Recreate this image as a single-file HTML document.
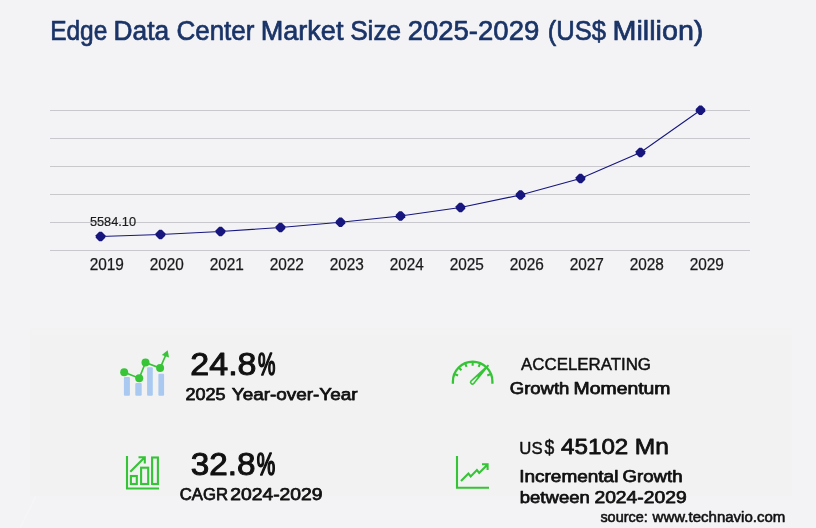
<!DOCTYPE html>
<html lang="en">
<head>
<meta charset="utf-8">
<title>Edge Data Center Market Size 2025-2029 (US$ Million)</title>
<style>
html,body{margin:0;padding:0;background:#f3f3f6;}
body{width:816px;height:528px;overflow:hidden;font-family:"Liberation Sans",sans-serif;}
svg{display:block;}
text{font-family:"Liberation Sans",sans-serif;}
.g{fill:none;stroke:#35c435;stroke-width:2.1;}
</style>
</head>
<body>
<svg width="816" height="528" viewBox="0 0 816 528">
<rect x="0" y="0" width="816" height="528" fill="#f3f3f6"/>
<!-- lower panel -->
<rect x="30" y="328" width="762" height="168" fill="#f2f2f2"/>
<rect x="32" y="330" width="760" height="5" fill="#f3f3f3"/>
<line x1="36" y1="496" x2="20" y2="528" stroke="#f5f5f8" stroke-width="1.6"/>

<!-- grid -->
<g stroke="#c9c9cd" stroke-width="1" shape-rendering="crispEdges">
<line x1="50" y1="110.5" x2="750" y2="110.5"/>
<line x1="50" y1="138.5" x2="750" y2="138.5"/>
<line x1="50" y1="166.5" x2="750" y2="166.5"/>
<line x1="50" y1="194.5" x2="750" y2="194.5"/>
<line x1="50" y1="222.5" x2="750" y2="222.5"/>
<line x1="50" y1="250.5" x2="750" y2="250.5"/>
</g>
<!-- series -->
<polyline fill="none" stroke="#16167e" stroke-width="1.1" points="100.4,236.5 160.4,234.5 220.4,231.5 280.4,227.5 340.4,222.3 400.4,216 460.4,207.5 520.4,195 580.4,178.5 640.4,152.5 700.4,110.3"/>
<g fill="#16167e">
<polygon points="99.20,231.75 101.80,231.75 105.25,235.20 105.25,237.80 101.80,241.25 99.20,241.25 95.75,237.80 95.75,235.20"/>
<polygon points="159.20,229.75 161.80,229.75 165.25,233.20 165.25,235.80 161.80,239.25 159.20,239.25 155.75,235.80 155.75,233.20"/>
<polygon points="219.20,226.75 221.80,226.75 225.25,230.20 225.25,232.80 221.80,236.25 219.20,236.25 215.75,232.80 215.75,230.20"/>
<polygon points="279.20,222.75 281.80,222.75 285.25,226.20 285.25,228.80 281.80,232.25 279.20,232.25 275.75,228.80 275.75,226.20"/>
<polygon points="339.20,217.55 341.80,217.55 345.25,221.00 345.25,223.60 341.80,227.05 339.20,227.05 335.75,223.60 335.75,221.00"/>
<polygon points="399.20,211.25 401.80,211.25 405.25,214.70 405.25,217.30 401.80,220.75 399.20,220.75 395.75,217.30 395.75,214.70"/>
<polygon points="459.20,202.75 461.80,202.75 465.25,206.20 465.25,208.80 461.80,212.25 459.20,212.25 455.75,208.80 455.75,206.20"/>
<polygon points="519.20,190.25 521.80,190.25 525.25,193.70 525.25,196.30 521.80,199.75 519.20,199.75 515.75,196.30 515.75,193.70"/>
<polygon points="579.20,173.75 581.80,173.75 585.25,177.20 585.25,179.80 581.80,183.25 579.20,183.25 575.75,179.80 575.75,177.20"/>
<polygon points="639.20,147.75 641.80,147.75 645.25,151.20 645.25,153.80 641.80,157.25 639.20,157.25 635.75,153.80 635.75,151.20"/>
<polygon points="699.20,105.55 701.80,105.55 705.25,109.00 705.25,111.60 701.80,115.05 699.20,115.05 695.75,111.60 695.75,109.00"/>
</g>
<text x="89.89" y="225.6" font-size="13.4" fill="#1c1c1c" stroke="#1c1c1c" stroke-width=".2" textLength="46.11" lengthAdjust="spacingAndGlyphs">5584.10</text>
<g font-size="16.2" fill="#1a1a1a" stroke="#1a1a1a" stroke-width=".25">
<text x="89.65" y="269.8" textLength="34.25" lengthAdjust="spacingAndGlyphs">2019</text>
<text x="149.65" y="269.8" textLength="34.12" lengthAdjust="spacingAndGlyphs">2020</text>
<text x="209.65" y="269.8" textLength="34.28" lengthAdjust="spacingAndGlyphs">2021</text>
<text x="269.65" y="269.8" textLength="34.30" lengthAdjust="spacingAndGlyphs">2022</text>
<text x="329.65" y="269.8" textLength="34.20" lengthAdjust="spacingAndGlyphs">2023</text>
<text x="389.66" y="269.8" textLength="33.97" lengthAdjust="spacingAndGlyphs">2024</text>
<text x="449.65" y="269.8" textLength="34.17" lengthAdjust="spacingAndGlyphs">2025</text>
<text x="509.65" y="269.8" textLength="34.20" lengthAdjust="spacingAndGlyphs">2026</text>
<text x="569.65" y="269.8" textLength="34.30" lengthAdjust="spacingAndGlyphs">2027</text>
<text x="629.65" y="269.8" textLength="34.19" lengthAdjust="spacingAndGlyphs">2028</text>
<text x="689.65" y="269.8" textLength="34.25" lengthAdjust="spacingAndGlyphs">2029</text>
</g>

<!-- icon 1: bars + trend line -->
<g>
<g fill="#a9c9f1">
<rect x="123.900" y="377.100" width="6" height="18.600" rx="1"/>
<rect x="135.300" y="383.100" width="6.400" height="12.600" rx="1"/>
<rect x="147.100" y="367.200" width="5.700" height="28.500" rx="1"/>
<rect x="158.400" y="373.800" width="5.700" height="21.900" rx="1"/>
</g>
<polyline fill="none" stroke="#37c437" stroke-width="1.700" points="124.200,372.200 139.200,378.200 145.500,362.500 160.100,368.100 165.800,355"/>
<g fill="#37c437">
<circle cx="124.200" cy="372.200" r="4"/>
<circle cx="139.200" cy="378.200" r="4"/>
<circle cx="145.500" cy="362.500" r="4"/>
<circle cx="160.100" cy="368.100" r="4"/>
<path d="M167.700 350.200l1.300 7.400l-7.200-2.600z"/>
</g>
</g>

<!-- icon 2: speedometer -->
<g>
<path d="M452.90 383.8V381.5A19.75 19.75 0 0 1 492.40 381.5V383.8" fill="none" stroke="#35c435" stroke-width="2.3"/>
<path d="M455.10 374.23L458.05 375.45M459.21 368.06L461.48 370.33M465.38 363.95L466.60 366.90M472.65 362.50L472.65 365.70M479.92 363.95L478.70 366.90M490.20 374.23L487.25 375.45" fill="none" stroke="#35c435" stroke-width="2.1"/>
<path d="M474.29 383.99L489.15 365.82L487.85 364.58L470.51 380.41A2.6 2.6 0 0 0 474.29 383.99Z" fill="#35c435"/>
<path d="M473.16 382.92L477.70 376.89L477.41 376.62L471.64 381.48A1.05 1.05 0 0 0 473.16 382.92Z" fill="#f2f2f2"/>
</g>

<!-- icon 3: bar chart with arrow -->
<g class="g" stroke-linecap="butt" stroke-linejoin="miter">
<path d="M127 456v32.500h32"/>
<rect x="130.900" y="476" width="5.900" height="8"/>
<rect x="141.100" y="467.700" width="7.100" height="16.300"/>
<rect x="152.100" y="457.500" width="5.800" height="26.500"/>
<path d="M130.300 471.800l14.200-14.200M138.500 457.300h6.300v6.300"/>
</g>

<!-- icon 4: line chart -->
<g class="g" stroke-linecap="butt" stroke-linejoin="miter">
<path d="M457 456v31.800h32"/>
<path d="M461 480.900l7.400-7.400l2.300 2.900l6.200-6.300l2.300 2.900l8.400-8.400M482 464.300h5.600v5.600"/>
</g>

<!-- stats text -->
<g>
<text y="39.8" font-size="28.2" fill="#1a3467" stroke="#1a3467" stroke-width="0.7" stroke-linejoin="round"><tspan x="50.14" textLength="57.20" lengthAdjust="spacingAndGlyphs">Edge</tspan> <tspan x="113.59" textLength="55.66" lengthAdjust="spacingAndGlyphs">Data</tspan> <tspan x="176.43" textLength="78.05" lengthAdjust="spacingAndGlyphs">Center</tspan> <tspan x="260.63" textLength="82.82" lengthAdjust="spacingAndGlyphs">Market</tspan> <tspan x="350.16" textLength="50.95" lengthAdjust="spacingAndGlyphs">Size</tspan> <tspan x="407.67" textLength="131.59" lengthAdjust="spacingAndGlyphs">2025-2029</tspan> <tspan x="547.76" textLength="58.30" lengthAdjust="spacingAndGlyphs">(US$</tspan> <tspan x="612.49" textLength="90.94" lengthAdjust="spacingAndGlyphs">Million)</tspan></text>
<text y="374.7" font-size="31.2" fill="#111" stroke="#111" stroke-width="1.0" stroke-linejoin="round"><tspan x="190.39" textLength="66.08" lengthAdjust="spacingAndGlyphs">24.8</tspan><tspan x="258.05" textLength="17.39" lengthAdjust="spacingAndGlyphs" stroke-width="1.7">%</tspan></text>
<text y="399.8" font-size="16.8" fill="#111" stroke="#111" stroke-width="0.75" stroke-linejoin="round"><tspan x="185.47" textLength="40.11" lengthAdjust="spacingAndGlyphs">2025</tspan> <tspan x="231.77" textLength="125.76" lengthAdjust="spacingAndGlyphs">Year-over-Year</tspan></text>
<text y="474.7" font-size="31.2" fill="#111" stroke="#111" stroke-width="1.0" stroke-linejoin="round"><tspan x="190.83" textLength="64.71" lengthAdjust="spacingAndGlyphs">32.8</tspan><tspan x="256.71" textLength="18.48" lengthAdjust="spacingAndGlyphs" stroke-width="1.7">%</tspan></text>
<text y="499.8" font-size="16.8" fill="#111" stroke="#111" stroke-width="0.75" stroke-linejoin="round"><tspan x="179.83" textLength="48.17" lengthAdjust="spacingAndGlyphs">CAGR</tspan> <tspan x="230.20" textLength="92.34" lengthAdjust="spacingAndGlyphs">2024-2029</tspan></text>
<text y="369.8" font-size="16.8" fill="#111" stroke="#111" stroke-width="0.5" stroke-linejoin="round"><tspan x="521.02" textLength="129.98" lengthAdjust="spacingAndGlyphs">ACCELERATING</tspan></text>
<text y="394.0" font-size="16.8" fill="#111" stroke="#111" stroke-width="0.75" stroke-linejoin="round"><tspan x="509.74" textLength="59.68" lengthAdjust="spacingAndGlyphs">Growth</tspan> <tspan x="573.59" textLength="96.92" lengthAdjust="spacingAndGlyphs">Momentum</tspan></text>
<text y="454.4" font-size="16.6" fill="#111" stroke="#111" stroke-width="0.45" stroke-linejoin="round"><tspan x="519.34" textLength="23.21" lengthAdjust="spacingAndGlyphs">US</tspan></text>
<text y="454.4" font-size="20.6" fill="#111" stroke="#111" stroke-width="0.5" stroke-linejoin="round"><tspan x="544.46" textLength="9.77" lengthAdjust="spacingAndGlyphs">$</tspan></text>
<text y="454.4" font-size="22.5" fill="#111" stroke="#111" stroke-width="0.8" stroke-linejoin="round"><tspan x="561.04" textLength="67.27" lengthAdjust="spacingAndGlyphs">45102</tspan> <tspan x="634.89" textLength="34.11" lengthAdjust="spacingAndGlyphs">Mn</tspan></text>
<text y="481.7" font-size="16.8" fill="#111" stroke="#111" stroke-width="0.75" stroke-linejoin="round"><tspan x="519.22" textLength="99.17" lengthAdjust="spacingAndGlyphs">Incremental</tspan> <tspan x="622.64" textLength="59.89" lengthAdjust="spacingAndGlyphs">Growth</tspan></text>
<text y="503.2" font-size="16.8" fill="#111" stroke="#111" stroke-width="0.75" stroke-linejoin="round"><tspan x="519.78" textLength="70.05" lengthAdjust="spacingAndGlyphs">between</tspan> <tspan x="594.41" textLength="92.23" lengthAdjust="spacingAndGlyphs">2024-2029</tspan></text>
<text y="522.0" font-size="15.3" fill="#111" stroke="#111" stroke-width="0.6" stroke-linejoin="round"><tspan x="600.40" textLength="47.42" lengthAdjust="spacingAndGlyphs">source:</tspan> <tspan x="652.62" textLength="132.76" lengthAdjust="spacingAndGlyphs">www.technavio.com</tspan></text>
</g>
</svg>
</body>
</html>
